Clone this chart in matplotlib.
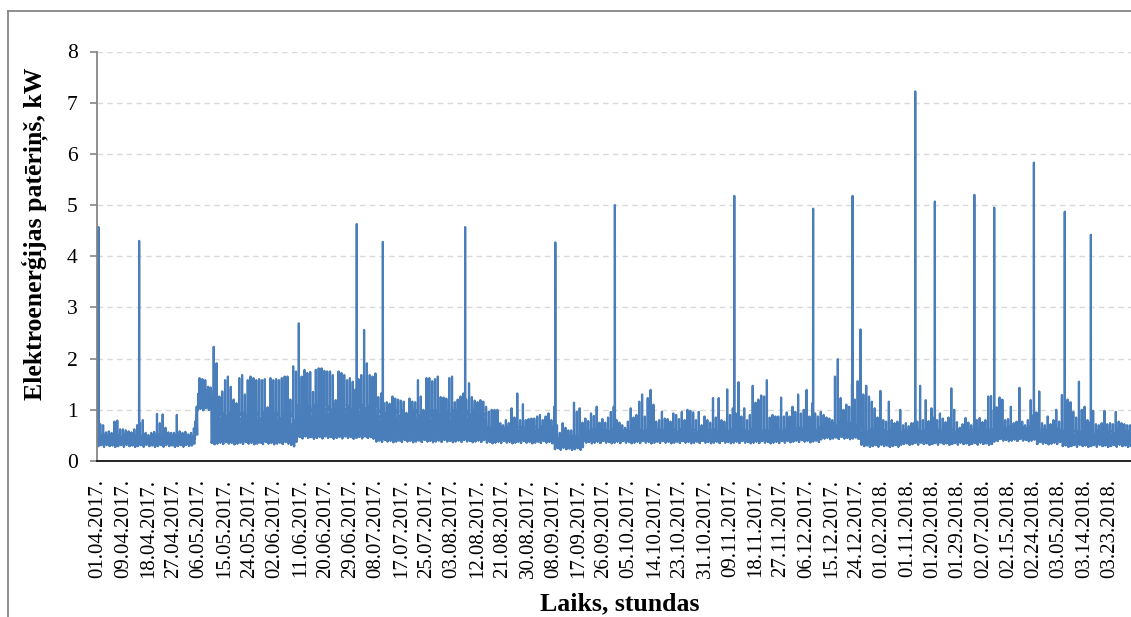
import numpy as np
import matplotlib
matplotlib.use("Agg")
import matplotlib.pyplot as plt
from matplotlib.lines import Line2D

# x tick labels, one every 214 hours (as in the original category axis)
tick_labels = [
    "01.04.2017.", "09.04.2017.", "18.04.2017.", "27.04.2017.", "06.05.2017.",
    "15.05.2017.", "24.05.2017.", "02.06.2017.", "11.06.2017.", "20.06.2017.",
    "29.06.2017.", "08.07.2017.", "17.07.2017.", "25.07.2017.", "03.08.2017.",
    "12.08.2017.", "21.08.2017.", "30.08.2017.", "08.09.2017.", "17.09.2017.",
    "26.09.2017.", "05.10.2017.", "14.10.2017.", "23.10.2017.", "31.10.2017.",
    "09.11.2017.", "18.11.2017.", "27.11.2017.", "06.12.2017.", "15.12.2017.",
    "24.12.2017.", "01.02.2018.", "01.11.2018.", "01.20.2018.", "01.29.2018.",
    "02.07.2018.", "02.15.2018.", "02.24.2018.", "03.05.2018.", "03.14.2018.",
    "03.23.2018.",
]
tick_step = 214

# daily maximum (kW), day 0 = 01.04.2017
daily_max = [
    0.72, 0.70, 0.56, 0.58, 0.55, 0.77, 0.79, 0.62, 0.62,
    0.60, 0.58, 0.56, 0.62, 0.70, 0.74, 0.80, 0.55, 0.50,
    0.55, 0.57, 0.92, 0.74, 0.91, 0.65, 0.56, 0.55, 0.55,
    0.90, 0.58, 0.55, 0.57, 0.52, 0.55, 0.64, 1.06, 1.62,
    1.60, 1.58, 1.45, 1.40, 2.23, 1.91, 1.26, 1.36, 1.58,
    1.65, 1.45, 1.20, 1.13, 1.62, 1.68, 1.30, 1.58, 1.65,
    1.62, 1.58, 1.60, 1.58, 1.60, 1.05, 1.62, 1.58, 1.60,
    1.58, 1.62, 1.65, 1.65, 1.20, 1.85, 1.75, 2.69, 1.65,
    1.78, 1.72, 1.74, 1.35, 1.78, 1.81, 1.81, 1.76, 1.75,
    1.75, 1.68, 1.19, 1.75, 1.72, 1.68, 1.58, 1.62, 1.55,
    1.40, 1.60, 1.68, 2.56, 1.91, 1.68, 1.65, 1.71, 1.25,
    1.32, 1.13, 1.15, 1.12, 1.26, 1.22, 1.20, 1.18, 1.16,
    0.65, 1.22, 1.16, 1.15, 1.58, 1.26, 0.90, 1.62, 1.62,
    1.56, 1.60, 1.65, 1.25, 1.24, 1.22, 1.62, 1.65, 1.15,
    1.20, 1.26, 1.32, 1.20, 1.52, 1.25, 1.18, 1.15, 1.19,
    1.16, 1.06, 0.96, 1.00, 1.00, 1.00, 0.74, 0.70, 0.80,
    0.74, 1.03, 0.85, 1.32, 0.80, 1.11, 0.80, 0.82, 0.83,
    0.83, 0.87, 0.90, 0.80, 0.87, 0.93, 0.80, 1.06, 0.70,
    0.55, 0.74, 0.65, 0.60, 0.60, 1.14, 0.96, 1.03, 0.75,
    0.83, 0.78, 0.93, 0.88, 1.06, 0.75, 0.82, 0.75, 0.85,
    0.96, 1.06, 0.80, 0.75, 0.70, 0.65, 0.77, 1.03, 0.85,
    0.90, 1.16, 1.30, 0.87, 1.23, 1.39, 1.10, 0.77, 0.80,
    0.96, 0.83, 0.82, 0.77, 0.93, 0.90, 0.82, 0.96, 0.80,
    1.00, 0.98, 0.95, 0.80, 0.96, 0.70, 0.87, 0.80, 0.75,
    1.23, 0.85, 1.23, 0.80, 0.77, 1.40, 0.90, 1.03, 0.93,
    1.54, 0.87, 1.03, 0.80, 0.90, 1.47, 1.14, 1.20, 1.28,
    1.26, 1.58, 0.85, 0.90, 0.87, 0.87, 1.24, 0.87, 0.95,
    0.87, 1.06, 0.96, 1.30, 0.93, 1.00, 1.39, 0.87,
    1.13, 0.93, 0.87, 0.96, 0.90, 0.85, 0.83, 0.80, 1.65,
    1.99, 1.23, 1.00, 1.10, 1.06, 1.50, 1.20, 1.56, 2.57,
    1.30, 1.47, 1.26, 1.16, 1.03, 0.85, 1.37, 0.80, 0.77,
    1.16, 0.80, 0.74, 0.77, 1.00, 0.70, 0.74, 0.68, 0.74,
    0.75, 0.77, 1.47, 0.80, 1.19, 0.78, 1.03, 0.85, 0.80,
    0.93, 0.83, 0.76, 0.85, 1.42, 1.00, 0.76, 0.65, 0.72,
    0.84, 0.75, 0.70, 0.74, 0.80, 0.84, 0.76, 0.80, 1.26,
    1.27, 1.00, 1.05, 1.24, 1.20, 0.80, 0.82, 1.06, 0.74,
    0.77, 1.43, 0.77, 0.70, 0.80, 1.19, 0.90, 0.95, 1.36,
    0.74, 0.70, 0.87, 0.72, 0.80, 1.00, 0.77, 1.29, 1.20,
    1.20, 1.15, 0.96, 0.85, 1.55, 1.00, 1.06, 0.80, 0.75,
    0.98, 0.72, 0.70, 0.74, 0.98, 0.72, 0.74, 0.72, 0.96,
    0.77, 0.74, 0.72, 0.70, 0.70, 0.70,
]

# night-time base level and usual daytime level for stretches of days
period_start = [0, 34, 35, 40, 68, 70, 98, 137, 161, 171, 243, 255, 269, 284, 316, 331, 340]
period_low = [0.29, 0.45, 1.00, 0.34, 0.30, 0.45, 0.38, 0.36, 0.23, 0.36, 0.38, 0.44, 0.29, 0.33, 0.40, 0.34, 0.29]
period_fill = [0.52, 0.90, 1.45, 0.95, 0.80, 1.10, 1.00, 0.68, 0.50, 0.62, 0.66, 0.75, 0.62, 0.62, 0.68, 0.64, 0.60]

# share of the day's usual range used in each hour, and a weekday factor
day_profile = [0.08, 0.02, 0.0, 0.04, 0.01, 0.1, 0.3, 0.7, 0.5, 0.35, 0.62, 0.45,
               0.55, 0.38, 0.5, 0.66, 0.82, 1.0, 0.9, 0.75, 0.86, 0.58, 0.33, 0.16]
week_factor = [1.0, 0.82, 1.08, 0.9, 0.97, 0.86, 1.05]
low_shift = [0.0, 0.02, -0.01, 0.03, 0.0, 0.015, -0.015]
peak_hour = 19

# single-hour peaks (day number, kW)
spike_day = [0.2, 14.5, 91.2, 100.4, 129.4, 161.2, 182.2, 224.3, 252.1, 266.0,
             288.1, 295.0, 308.9, 315.9, 329.9, 340.8, 350.0]
spike_value = [4.57, 4.30, 4.63, 4.28, 4.57, 4.27, 5.00, 5.18, 4.93, 5.18,
               7.22, 5.07, 5.20, 4.95, 5.83, 4.87, 4.42]

# build the hourly series from the values above
values = []
for d, dmax in enumerate(daily_max):
    p = np.searchsorted(period_start, d, side="right") - 1
    low = period_low[p] + low_shift[d % 7]
    fill = period_fill[p]
    for h, share in enumerate(day_profile):
        v = low + (fill - low) * min(1.0, share * week_factor[d % 7])
        if h == peak_hour:
            v = max(v, dmax)
        values.append(v)
values = np.array(values)
for day, val in zip(spike_day, spike_value):
    values[int(round(day * 24))] = val
hours = np.arange(len(values))

plt.rcParams["font.family"] = ["Liberation Serif", "DejaVu Serif"]
plt.rcParams["path.simplify"] = False

W, H = 1131, 617
fig = plt.figure(figsize=(W / 100, H / 100), dpi=100)

px_per_hour = 0.1182
x_left, x_right = -8.5, len(values) + 7.5
ax_left, ax_top, ax_bottom = 97, 51.5, 461
ax_width = (x_right - x_left) * px_per_hour
ax = fig.add_axes([ax_left / W, 1 - ax_bottom / H, ax_width / W, (ax_bottom - ax_top) / H])

ax.plot(hours, values, color="#4a7ebb", linewidth=1.6)

ax.set_xlim(x_left, x_right)
ax.set_ylim(0, 8)
ax.set_yticks(range(0, 9))
ax.set_xticks(np.arange(len(tick_labels)) * tick_step)
ax.set_xticklabels(tick_labels, rotation=90)

ax.yaxis.grid(True, color="#d9d9d9", linewidth=1.0, linestyle=(0, (4, 3)))
ax.set_axisbelow(True)

for s in ["top", "right"]:
    ax.spines[s].set_visible(False)
ax.spines["left"].set_color("#868686")
ax.spines["left"].set_linewidth(1.3)
ax.spines["bottom"].set_color("black")
ax.spines["bottom"].set_linewidth(1.2)

ax.tick_params(axis="y", direction="out", length=5, width=1.2, color="#868686",
               pad=9, labelsize=15.5)
ax.tick_params(axis="x", length=0, pad=13, labelsize=15)

fig.text(35 / W, 1 - 234 / H, "Elektroenerģijas patēriņš, kW", rotation=90,
         ha="center", va="center", fontsize=18.5, fontweight="bold")
fig.text(620 / W, 1 - 604 / H, "Laiks, stundas", ha="center", va="center",
         fontsize=18.5, fontweight="bold")

# outer chart border (cropped on the right and bottom)
fig.add_artist(Line2D([7.5 / W, 7.5 / W], [0, 1 - 10.5 / H], transform=fig.transFigure,
                      color="#868686", linewidth=1.3))
fig.add_artist(Line2D([7.5 / W, 1], [1 - 10.5 / H, 1 - 10.5 / H], transform=fig.transFigure,
                      color="#868686", linewidth=1.3))

fig.savefig("out.png", dpi=100)
